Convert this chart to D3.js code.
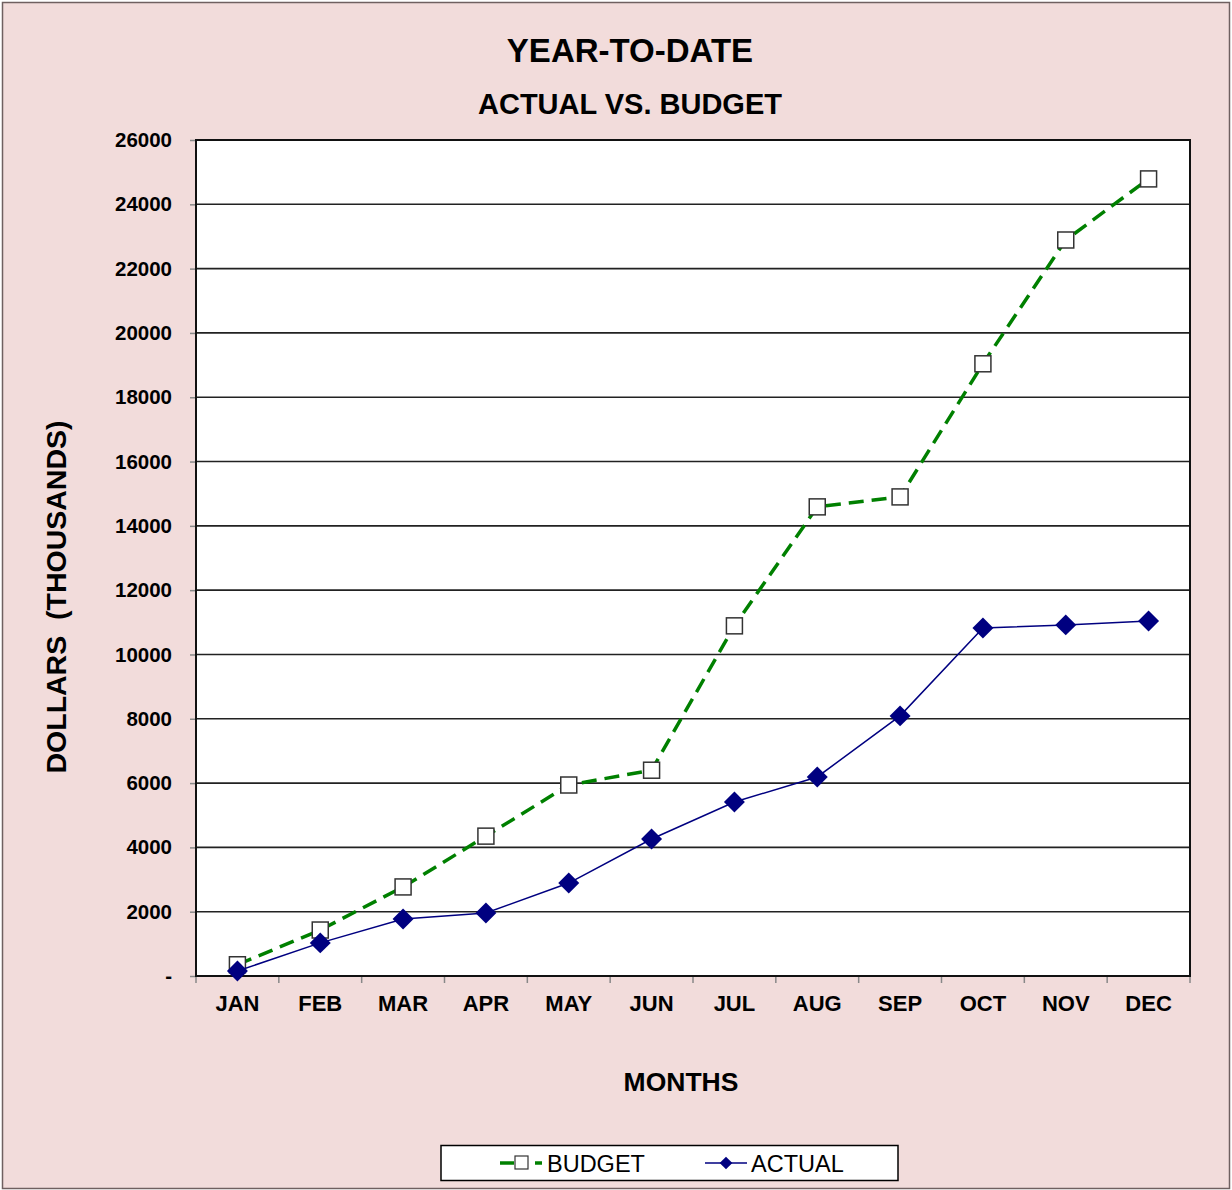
<!DOCTYPE html>
<html><head><meta charset="utf-8">
<script src="https://cdn.jsdelivr.net/npm/d3@7"></script>
<style>body{margin:0;background:#fff}svg{display:block;font-family:Arial,"Liberation Sans",sans-serif}</style>
</head><body><svg id="c" width="1232" height="1190"></svg>
<script>
const months = ["JAN","FEB","MAR","APR","MAY","JUN","JUL","AUG","SEP","OCT","NOV","DEC"];
const budget = [350,1430,2770,4350,5940,6400,10890,14590,14900,19040,22890,24790];
const actual = [155,1030,1770,1960,2890,4260,5410,6190,8090,10820,10920,11040];
const yTicks = [0,2000,4000,6000,8000,10000,12000,14000,16000,18000,20000,22000,24000,26000];

const svg = d3.select("#c");
svg.append("rect").attr("x",2.5).attr("y",2.5).attr("width",1227).attr("height",1186)
  .attr("fill","#f2dcdb").attr("stroke","#6f6060").attr("stroke-width",1.5);

const L=196,R=1190,T=140,B=976;
const x = d3.scaleBand().domain(months).range([L,R]);
const y = d3.scaleLinear().domain([0,26000]).range([B,T]);
const cx = d => x(d)+x.bandwidth()/2;

svg.append("rect").attr("x",L).attr("y",T).attr("width",R-L).attr("height",B-T).attr("fill","#fff");

// gridlines
svg.append("g").selectAll("line").data(yTicks).join("line")
  .attr("x1",L).attr("x2",R).attr("y1",d=>y(d)).attr("y2",d=>y(d))
  .attr("stroke","#222").attr("stroke-width",1.6);

// y axis
const ya = svg.append("g").attr("transform",`translate(${L},0)`)
  .call(d3.axisLeft(y).tickValues(yTicks).tickSize(6).tickPadding(18).tickFormat(d=>d===0?"-":d));
ya.select(".domain").remove();
ya.selectAll(".tick line").attr("stroke","#888").attr("stroke-width",1.5);
ya.selectAll("text").attr("font-size",20.5).attr("font-weight","bold").attr("fill","#000")
  .attr("font-family","Arial,'Liberation Sans',sans-serif");

// x axis with ticks at band boundaries
const xa = svg.append("g").attr("transform",`translate(0,${B})`)
  .call(d3.axisBottom(x).tickSize(0).tickPadding(19));
xa.select(".domain").remove();
xa.selectAll("text").attr("font-size",22).attr("font-weight","bold").attr("fill","#000")
  .attr("font-family","Arial,'Liberation Sans',sans-serif");
svg.append("g").selectAll("line").data(months.concat(["_end"])).join("line")
  .attr("x1",(d,i)=>L+i*x.step()).attr("x2",(d,i)=>L+i*x.step())
  .attr("y1",B).attr("y2",B+7).attr("stroke","#888").attr("stroke-width",1.5);

// plot border
svg.append("rect").attr("x",L).attr("y",T).attr("width",R-L).attr("height",B-T)
  .attr("fill","none").attr("stroke","#111").attr("stroke-width",2);

// budget line
const line = d3.line().x((d,i)=>cx(months[i])).y(d=>y(d));
svg.append("path").datum(budget).attr("d",line).attr("fill","none")
  .attr("stroke","#008000").attr("stroke-width",3.5).attr("stroke-dasharray","15,8");
svg.append("g").selectAll("rect").data(budget).join("rect")
  .attr("x",(d,i)=>cx(months[i])-8).attr("y",d=>y(d)-8).attr("width",16).attr("height",16)
  .attr("fill","#fff").attr("stroke","#333").attr("stroke-width",1.5);

// actual line
svg.append("path").datum(actual).attr("d",line).attr("fill","none")
  .attr("stroke","#000080").attr("stroke-width",1.5);
const dia = d3.symbol().type(d3.symbolSquare).size(220);
svg.append("g").selectAll("path").data(actual).join("path")
  .attr("d",dia).attr("transform",(d,i)=>`translate(${cx(months[i])},${y(d)}) rotate(45)`)
  .attr("fill","#000080");

// titles
svg.append("text").attr("x",630).attr("y",62).attr("text-anchor","middle")
  .attr("font-size",33).attr("font-weight","bold").text("YEAR-TO-DATE");
svg.append("text").attr("x",630).attr("y",114).attr("text-anchor","middle")
  .attr("font-size",29).attr("font-weight","bold").text("ACTUAL VS. BUDGET");
svg.append("text").attr("transform","translate(66,597) rotate(-90)").attr("text-anchor","middle")
  .attr("font-size",28.5).attr("font-weight","bold").attr("xml:space","preserve").text("DOLLARS  (THOUSANDS)");
svg.append("text").attr("x",681).attr("y",1091).attr("text-anchor","middle")
  .attr("font-size",26.5).attr("font-weight","bold").text("MONTHS");

// legend
const lg = svg.append("g");
lg.append("rect").attr("x",441).attr("y",1145.5).attr("width",457).attr("height",35)
  .attr("fill","#fff").attr("stroke","#000").attr("stroke-width",1.5);
lg.append("line").attr("x1",500).attr("x2",514).attr("y1",1163).attr("y2",1163).attr("stroke","#008000").attr("stroke-width",3.5);
lg.append("line").attr("x1",535).attr("x2",542).attr("y1",1163).attr("y2",1163).attr("stroke","#008000").attr("stroke-width",3.5);
lg.append("rect").attr("x",515).attr("y",1156).attr("width",13).attr("height",13).attr("fill","#fff").attr("stroke","#333").attr("stroke-width",1.2);
lg.append("text").attr("x",547).attr("y",1171.5).attr("font-size",23.5).text("BUDGET");
lg.append("line").attr("x1",705).attr("x2",747).attr("y1",1163).attr("y2",1163).attr("stroke","#000080").attr("stroke-width",1.5);
lg.append("path").attr("d",d3.symbol().type(d3.symbolSquare).size(80)).attr("transform","translate(726,1163) rotate(45)").attr("fill","#000080");
lg.append("text").attr("x",751).attr("y",1171.5).attr("font-size",23.5).text("ACTUAL");
</script></body></html>
